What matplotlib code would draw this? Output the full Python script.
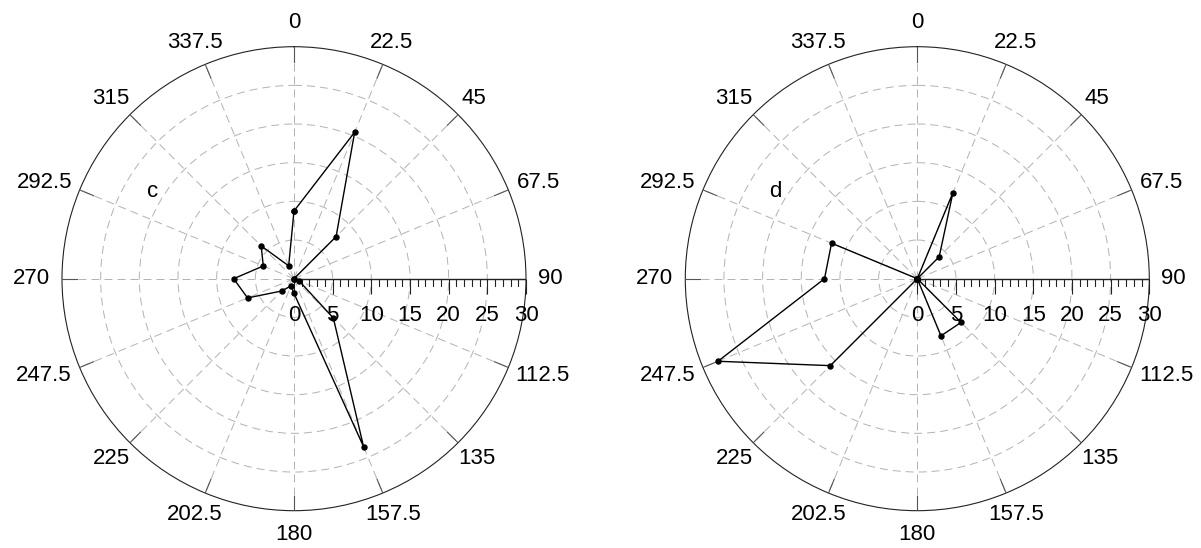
import numpy as np
import matplotlib
matplotlib.use("Agg")
import matplotlib.pyplot as plt
from matplotlib.font_manager import FontProperties
from matplotlib.markers import TICKDOWN
from matplotlib.textpath import TextPath

plt.rcParams["font.family"] = ["Liberation Sans", "DejaVu Sans"]

# compass directions (degrees, clockwise from north)
directions = [0, 22.5, 45, 67.5, 90, 112.5, 135, 157.5,
              180, 202.5, 225, 247.5, 270, 292.5, 315, 337.5]

# radial values per direction for each panel
values_c = [8.75, 20.5, 7.7, 0, 0, 0.7, 7.2, 23.5,
            1.9, 1.0, 2.25, 6.5, 7.8, 4.3, 6.0, 1.8]
values_d = [0, 12.05, 4.0, 0, 0, 0, 8.0, 8.0,
            0, 0, 15.9, 27.9, 12.0, 12.0, 0, 0]

panel_labels = ["c", "d"]
r_max = 30
ring_ticks = [5, 10, 15, 20, 25]
axis_major = [0, 5, 10, 15, 20, 25, 30]
axis_minor = [1, 2, 3, 4, 6, 7, 8, 9, 11, 12, 13, 14, 16, 17, 18, 19,
              21, 22, 23, 24, 26, 27, 28, 29]

FS = 16
fp = FontProperties(family="Liberation Sans", size=FS)


def label_offset(text, deg, gx=9.4, gy=11.5, hb=5.8):
    """Offset (points) of an angle label from the rim, scaled with its width."""
    w = TextPath((0, 0), text, size=FS, prop=fp).get_extents().width
    th = np.deg2rad(deg)
    s, c = np.sin(th), np.cos(th)
    ox = s * gx + (w / 2) * np.sign(s) * abs(s) ** 1.7
    oy = c * gy + hb * np.sign(c) * abs(c) ** 1.7
    return ox, oy


def draw_rose(ax, values, tag):
    ax.set_theta_zero_location("N")
    ax.set_theta_direction(-1)
    ax.set_ylim(0, r_max)

    ax.set_thetagrids(directions, labels=[""] * len(directions))
    ax.set_rgrids(ring_ticks, labels=[""] * len(ring_ticks))
    ax.grid(True, color="#b4b4b4", linestyle=(0, (8, 5)), linewidth=0.72)
    ax.tick_params(length=0)
    ax.spines["polar"].set_color("#222222")
    ax.spines["polar"].set_linewidth(0.8)

    # short solid ticks pointing in from the rim at each spoke
    for deg in directions:
        th = np.deg2rad(deg)
        ax.plot([th, th], [r_max - 1.95, r_max], color="#555555", lw=0.8,
                zorder=3)

    # radial scale along the east spoke
    east = np.deg2rad(90)
    ax.plot([east, east], [0, r_max], color="#222222", lw=1.0, zorder=4)
    ax.plot([east] * len(axis_major), axis_major, ls="none", marker=TICKDOWN,
            markersize=10.5, markeredgewidth=0.8, color="#222222", zorder=4,
            clip_on=False)
    ax.plot([east] * len(axis_minor), axis_minor, ls="none", marker=TICKDOWN,
            markersize=5.2, markeredgewidth=0.8, color="#222222", zorder=4)
    for r in axis_major:
        ax.annotate(f"{r}", xy=(east, r), xytext=(0, -26.5),
                    textcoords="offset points", ha="center", va="center",
                    fontsize=FS, annotation_clip=False)

    # direction labels around the rim
    for deg in directions:
        txt = f"{deg:g}"
        ox, oy = label_offset(txt, deg)
        ax.annotate(txt, xy=(np.deg2rad(deg), r_max), xytext=(ox, oy),
                    textcoords="offset points", ha="center", va="center",
                    fontsize=FS, annotation_clip=False)

    theta = np.deg2rad(directions + directions[:1])
    r = values + values[:1]
    ax.plot(theta, r, color="black", lw=1.0, marker="o", markersize=3.6,
            zorder=5, clip_on=False)

    ax.text(0.195, 0.677, tag, transform=ax.transAxes, ha="center",
            va="baseline", fontsize=FS)


fig = plt.figure(figsize=(12.01, 5.48), dpi=100)
ax_c = fig.add_axes([0.05162, 0.06807, 0.38634, 0.84672], projection="polar")
ax_d = fig.add_axes([0.5706, 0.06807, 0.38634, 0.84672], projection="polar")

draw_rose(ax_c, values_c, panel_labels[0])
draw_rose(ax_d, values_d, panel_labels[1])

fig.savefig("out.png", dpi=100)
